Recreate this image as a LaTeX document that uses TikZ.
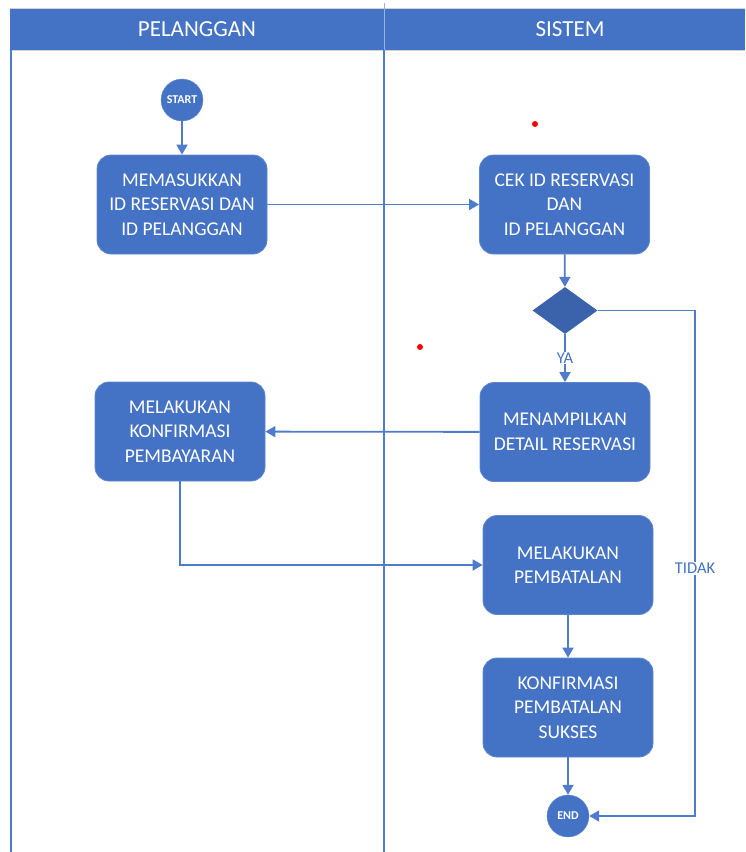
\documentclass[tikz,border=0pt]{standalone}
\usepackage{fontspec}
\setmainfont{Carlito}
\usetikzlibrary{shapes.geometric,arrows.meta,positioning}
\definecolor{swimblue}{HTML}{4472C4}
\definecolor{linkblue}{HTML}{4F7BCB}
\definecolor{darkdia}{HTML}{3B63AC}

\begin{document}
\begin{tikzpicture}[
x=1pt, y=-1pt,
>={Triangle[width=11pt,length=10pt]},
line/.style={draw=linkblue, line width=1.8pt},
lane/.style={draw=linkblue, line width=2pt},
head/.style={text=white, font=\fontsize{23}{28}\selectfont},
act/.style={draw=swimblue!85!white, line width=0.8pt, fill=swimblue, rounded corners=14pt, text=white, align=center, minimum width=170pt, minimum height=99pt, inner sep=2pt, font=\fontsize{19.5}{24.5}\selectfont},
term/.style={circle, draw=swimblue!80!white, fill=swimblue, text=white, minimum size=42pt, inner sep=0pt, font=\fontsize{12}{14}\selectfont\bfseries},
cond/.style={diamond, fill=darkdia, minimum width=65pt, minimum height=47pt, inner sep=0pt},
guard/.style={fill=white, text=swimblue, font=\fontsize{16.5}{19}\selectfont, inner sep=1pt}
]

\useasboundingbox (0,0) rectangle (745,852);

%lanes
\fill[swimblue] (10,8) rectangle (745,50);
\draw[gray!35, line width=1pt] (10,8) -- (745,8) (10,50) -- (745,50);
\path[lane] (11,50) -- (11,852);
\path[lane] (384,50) -- (384,852);
\draw[swimblue!55!white, line width=1pt] (384,3) -- (384,50);
\node[head] (hpel) at (197,29) {PELANGGAN};
\node[head] (hsis) at (570,29) {SISTEM};

%pelanggan
\node[term] (start) at (182,100) {START};
\node[act] (input) at (182,204.5) {MEMASUKKAN\\ID RESERVASI DAN\\ID PELANGGAN};
\node[act] (konfbayar) at (180,431.5) {MELAKUKAN\\KONFIRMASI\\PEMBAYARAN};

%sistem
\node[act] (cek) at (564.5,204.5) {CEK ID RESERVASI\\DAN\\ID PELANGGAN};
\node[cond] (valid) at (565,310.5) {};
\node[act] (tampil) at (565,432) {MENAMPILKAN\\DETAIL RESERVASI};
\node[act] (batal) at (568,565) {MELAKUKAN\\PEMBATALAN};
\node[act] (sukses) at (568,707.5) {KONFIRMASI\\PEMBATALAN\\SUKSES};
\node[term] (end) at (568,816) {END};
\coordinate (tidakturn) at (695,310.5);

\path[line,->] (start) -- (input);
\path[line,->] (input) -- (cek);
\path[line,->] (cek) -- (valid);
\path[line,->] (valid) -- node[guard] {YA} (tampil);
\path[line,->] (valid) -- (tidakturn) |- node[guard, pos=0.255] {TIDAK} (end);
\path[line,->] (tampil) -- (konfbayar);
\path[line,->] (konfbayar) |- (batal);
\path[line,->] (batal) -- (sukses);
\path[line,->] (sukses) -- (end);

%dots
\fill[red] (535,124) circle (3pt);
\fill[red] (420,347) circle (3pt);

\end{tikzpicture}
\end{document}
